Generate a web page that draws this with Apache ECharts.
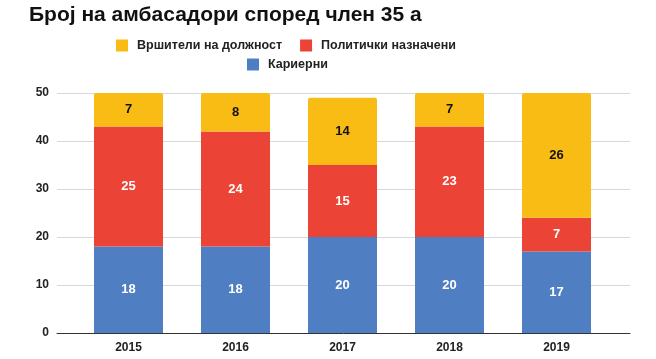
<!DOCTYPE html>
<html><head><meta charset="utf-8">
<script src="https://cdn.jsdelivr.net/npm/echarts@6/dist/echarts.min.js"></script>
<style>html,body{margin:0;padding:0;background:#fff}#c{width:656px;height:359px}</style>
</head><body><div id="c"></div>
<script>
var categories = ['2015','2016','2017','2018','2019'];
var careerVals = [18,18,20,20,17];
var politicalVals = [25,24,15,23,7];
var actingVals = [7,8,14,7,26];
var yTicks = {min:0, max:50, interval:10};
var seriesNames = ['Кариерни','Политички назначени','Вршители на должност'];
var titleText = 'Број на амбасадори според член 35 а';

var FF = '"Liberation Sans", Arial, sans-serif';
var chart = echarts.init(document.getElementById('c'), null, {renderer:'canvas'});
function lbl(color){
  return {show:true, position:'inside', color:color, fontFamily:FF, fontWeight:'bold', fontSize:13};
}
chart.setOption({
  animation:false,
  title:{text:titleText, left:24, top:0, textStyle:{fontFamily:FF, fontWeight:'bold', fontSize:21, color:'#111'}},
  legend:[
    {data:[seriesNames[2], seriesNames[1]], left:111, top:34, itemWidth:12, itemHeight:12, itemGap:18, icon:'rect',
     textStyle:{fontFamily:FF, fontWeight:'bold', fontSize:12.5, color:'#222', padding:[0,0,0,4]}},
    {data:[seriesNames[0]], left:242, top:53, itemWidth:12, itemHeight:12, icon:'rect',
     textStyle:{fontFamily:FF, fontWeight:'bold', fontSize:12.5, color:'#222', padding:[0,0,0,4]}}
  ],
  grid:[
    {left:75, right:46, top:93, bottom:26},
    {left:57, right:26, top:93, bottom:26}
  ],
  xAxis:[
    {type:'category', gridIndex:0, data:categories, axisLine:{show:false}, axisTick:{show:false},
     axisLabel:{fontFamily:FF, fontWeight:'bold', fontSize:12, color:'#222', margin:9}},
    {type:'value', gridIndex:1, min:0, max:1, axisLine:{show:true, lineStyle:{color:'#333', width:1}}, axisTick:{show:false},
     axisLabel:{show:false}, splitLine:{show:false}}
  ],
  yAxis:[
    {type:'value', gridIndex:0, min:yTicks.min, max:yTicks.max, interval:yTicks.interval, axisLabel:{show:false}, splitLine:{show:false}, axisLine:{show:false}},
    {type:'value', gridIndex:1, min:yTicks.min, max:yTicks.max, interval:yTicks.interval, axisLine:{show:false}, axisTick:{show:false},
     splitLine:{show:true, lineStyle:{color:'#d9d9d9'}},
     axisLabel:{fontFamily:FF, fontWeight:'bold', fontSize:12, color:'#222', margin:8}}
  ],
  series:[
    {name:seriesNames[0], type:'bar', stack:'a', data:careerVals, barWidth:69, itemStyle:{color:'#4f7ec3'}, label:lbl('#fff'), z:3},
    {name:seriesNames[1], type:'bar', stack:'a', data:politicalVals, itemStyle:{color:'#eb4335'}, label:lbl('#fff'), z:3},
    {name:seriesNames[2], type:'bar', stack:'a', data:actingVals, itemStyle:{color:'#f9bc15', borderRadius:[2,2,0,0]}, label:lbl('#111'), z:3}
  ]
});
</script></body></html>
